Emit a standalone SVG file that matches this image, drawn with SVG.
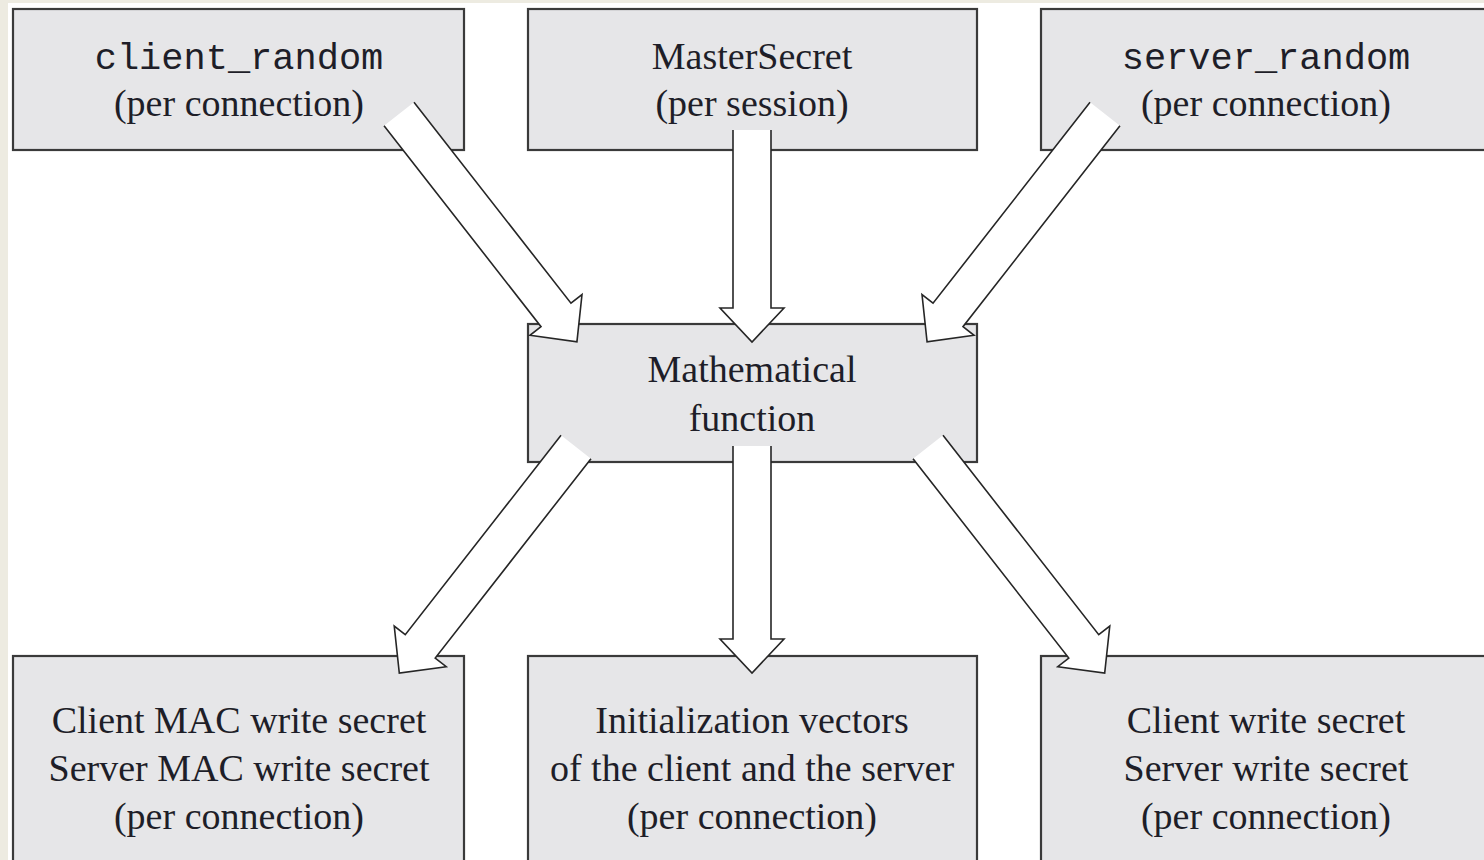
<svg xmlns="http://www.w3.org/2000/svg" width="1484" height="860" viewBox="0 0 1484 860">
  <style>
    .box { fill: #e6e6e8; stroke: #3a3a3a; stroke-width: 2.2; }
    .txt { font-family: "Liberation Serif", "Times New Roman", serif; font-size: 38px; fill: #1e1e28; text-anchor: middle; }
    .mono { font-family: "Liberation Mono", "Courier New", monospace; font-size: 37px; fill: #1e1e28; text-anchor: middle; }
    .arrow { fill: #ffffff; stroke: #262626; stroke-width: 1.6; stroke-linejoin: miter; }
  </style>

  <!-- page background with a thin margin strip -->
  <rect x="0" y="0" width="1484" height="860" fill="#edebe1"/>
  <rect x="8" y="3" width="1476" height="857" fill="#ffffff"/>

  <g id="client-random">
    <rect class="box" x="13" y="9" width="451" height="141"/>
    <text class="mono" x="239" y="69">client_random</text>
    <text class="txt" x="239" y="116">(per connection)</text>
  </g>

  <g id="master-secret">
    <rect class="box" x="528" y="9" width="449" height="141"/>
    <text class="txt" x="752" y="69">MasterSecret</text>
    <text class="txt" x="752" y="116">(per session)</text>
  </g>

  <g id="server-random">
    <rect class="box" x="1041" y="9" width="451" height="141"/>
    <text class="mono" x="1266" y="69">server_random</text>
    <text class="txt" x="1266" y="116">(per connection)</text>
  </g>

  <g id="math-function">
    <rect class="box" x="528" y="324" width="449" height="138"/>
    <text class="txt" x="752" y="382">Mathematical</text>
    <text class="txt" x="752" y="431">function</text>
  </g>

  <g id="mac-secrets">
    <rect class="box" x="13" y="656" width="451" height="230"/>
    <text class="txt" x="239" y="733">Client MAC write secret</text>
    <text class="txt" x="239" y="781">Server MAC write secret</text>
    <text class="txt" x="239" y="829">(per connection)</text>
  </g>

  <g id="init-vectors">
    <rect class="box" x="528" y="656" width="449" height="230"/>
    <text class="txt" x="752" y="733">Initialization vectors</text>
    <text class="txt" x="752" y="781">of the client and the server</text>
    <text class="txt" x="752" y="829">(per connection)</text>
  </g>

  <g id="write-secrets">
    <rect class="box" x="1041" y="656" width="451" height="230"/>
    <text class="txt" x="1266" y="733">Client write secret</text>
    <text class="txt" x="1266" y="781">Server write secret</text>
    <text class="txt" x="1266" y="829">(per connection)</text>
  </g>

  <!-- hollow block arrows; the tail edge is left open (no stroke) -->
  <g id="connectors">
    <path class="arrow" transform="translate(399,114) rotate(52)" d="M0,-19 H255 V-33 L289,0 L255,33 V19 H0"/>
    <path class="arrow" transform="translate(752,130) rotate(90)" d="M0,-19 H178 V-32 L212,0 L178,32 V19 H0"/>
    <path class="arrow" transform="translate(1105,114) rotate(128)" d="M0,-19 H255 V-33 L289,0 L255,33 V19 H0"/>
    <path class="arrow" transform="translate(576,447) rotate(128)" d="M0,-19 H253 V-33 L287,0 L253,33 V19 H0"/>
    <path class="arrow" transform="translate(752,446) rotate(90)" d="M0,-19 H193 V-32 L227,0 L193,32 V19 H0"/>
    <path class="arrow" transform="translate(928,447) rotate(52)" d="M0,-19 H253 V-33 L287,0 L253,33 V19 H0"/>
  </g>
</svg>
